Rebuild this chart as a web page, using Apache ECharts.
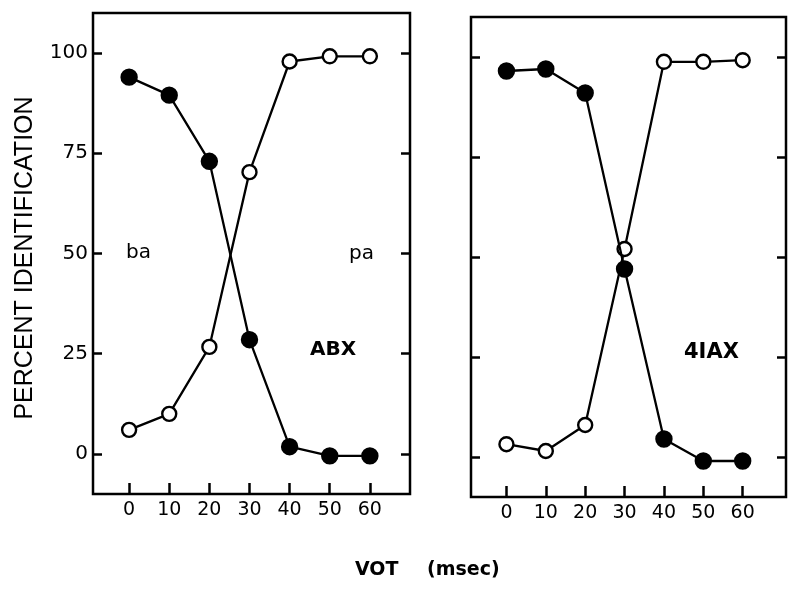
<!DOCTYPE html>
<html>
<head>
<meta charset="utf-8">
<script src="https://cdn.jsdelivr.net/npm/echarts@6/dist/echarts.min.js"></script>
<style>
html,body{margin:0;padding:0;background:#fff;}
#chart{width:800px;height:590px;}
</style>
</head>
<body>
<div id="chart"></div>
<script>
// VOT steps (msec)
var vot = [0, 10, 20, 30, 40, 50, 60];
// ABX panel
var abxBa = [94, 89.5, 73, 28.5, 1.8, -0.5, -0.5];     // filled circles
var abxPa = [6, 10, 26.7, 70.3, 97.9, 99.2, 99.2];     // open circles
// 4IAX panel
var iaxBa = [96.5, 97, 91, 47, 4.5, -1, -1];           // filled circles
var iaxPa = [3.2, 1.5, 8, 52, 98.8, 98.8, 99.2];       // open circles
// tick labels
var xTicks = [0, 10, 20, 30, 40, 50, 60];
var yTicks = [0, 25, 50, 75, 100];

function pairs(ys) { return vot.map(function (x, i) { return [x, ys[i]]; }); }

var FONT = 'DejaVu Sans';

function xAxisFor(gi, max) {
  return {
    type: 'value', gridIndex: gi, min: -9, max: max, position: 'bottom',
    axisLine: { show: false, onZero: false },
    splitLine: { show: false },
    axisTick: { show: true, inside: true, length: 11, customValues: xTicks,
      lineStyle: { color: '#000', width: 2.5 } },
    axisLabel: { show: true, customValues: xTicks, margin: 7, color: '#000',
      fontFamily: FONT, fontSize: 19, fontWeight: 500 }
  };
}
function yAxisFor(gi, pos, showLabel) {
  return {
    type: 'value', gridIndex: gi, min: -10, max: 110, position: pos,
    axisLine: { show: false, onZero: false },
    splitLine: { show: false },
    axisTick: { show: true, inside: true, length: 9, customValues: yTicks,
      lineStyle: { color: '#000', width: 2.5 } },
    axisLabel: { show: showLabel, customValues: yTicks, margin: 5, color: '#000',
      fontFamily: FONT, fontSize: 20, fontWeight: 500 }
  };
}
function lineSeries(xi, yi, data, filled) {
  return {
    type: 'line', xAxisIndex: xi, yAxisIndex: yi, data: pairs(data),
    symbol: 'circle', symbolSize: filled ? 15 : 14,
    lineStyle: { color: '#000', width: 2.3 },
    itemStyle: { color: filled ? '#000' : '#fff', borderColor: '#000', borderWidth: 2.4 },
    z: filled ? 3 : 2,
    animation: false,
    emphasis: { disabled: true }
  };
}

var chart = echarts.init(document.getElementById('chart'), null, { renderer: 'canvas' });
chart.setOption({
  backgroundColor: '#fff',
  animation: false,
  grid: [
    { left: 93, top: 13, width: 317, height: 481, show: true, borderColor: '#000', borderWidth: 2.5, backgroundColor: 'transparent' },
    { left: 471, top: 17, width: 315, height: 480, show: true, borderColor: '#000', borderWidth: 2.5, backgroundColor: 'transparent' }
  ],
  xAxis: [ xAxisFor(0, 70), xAxisFor(1, 71) ],
  yAxis: [ yAxisFor(0, 'left', true), yAxisFor(0, 'right', false),
           yAxisFor(1, 'left', false), yAxisFor(1, 'right', false) ],
  series: [
    lineSeries(0, 0, abxPa, false),
    lineSeries(0, 0, abxBa, true),
    lineSeries(1, 2, iaxPa, false),
    lineSeries(1, 2, iaxBa, true)
  ],
  graphic: [
    { type: 'text', x: 25, y: 258, rotation: Math.PI / 2,
      style: { text: 'PERCENT IDENTIFICATION', fill: '#000', font: '25px "Liberation Sans"',
        textAlign: 'center', textVerticalAlign: 'middle' } },
    { type: 'text', x: 355, y: 570,
      style: { text: 'VOT', fill: '#000', font: 'bold 19px "DejaVu Sans"', textAlign: 'left', textVerticalAlign: 'middle' } },
    { type: 'text', x: 427, y: 570,
      style: { text: '(msec)', fill: '#000', font: 'bold 19px "DejaVu Sans"', textAlign: 'left', textVerticalAlign: 'middle' } },
    { type: 'text', x: 126, y: 253,
      style: { text: 'ba', fill: '#000', font: '20px "DejaVu Sans"', textAlign: 'left', textVerticalAlign: 'middle' } },
    { type: 'text', x: 349, y: 254,
      style: { text: 'pa', fill: '#000', font: '20px "DejaVu Sans"', textAlign: 'left', textVerticalAlign: 'middle' } },
    { type: 'text', x: 310, y: 350,
      style: { text: 'ABX', fill: '#000', font: 'bold 20px "DejaVu Sans"', textAlign: 'left', textVerticalAlign: 'middle' } },
    { type: 'text', x: 684, y: 353,
      style: { text: '4IAX', fill: '#000', font: 'bold 21px "DejaVu Sans"', textAlign: 'left', textVerticalAlign: 'middle' } }
  ]
});
</script>
</body>
</html>
